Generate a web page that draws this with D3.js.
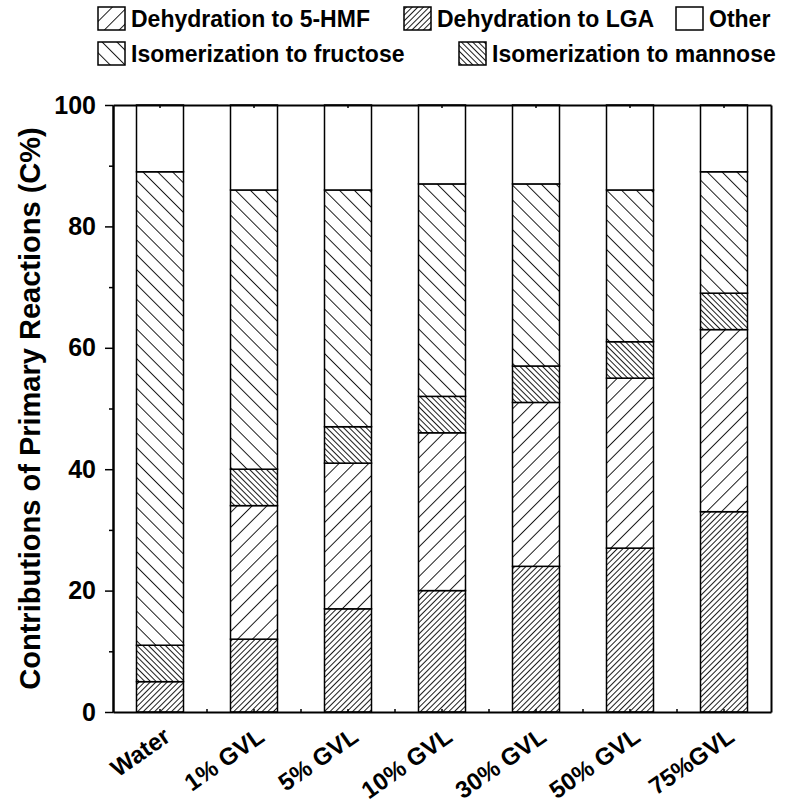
<!DOCTYPE html>
<html>
<head>
<meta charset="utf-8">
<script src="https://cdn.jsdelivr.net/npm/d3@7/dist/d3.min.js"></script>
<style>
  html, body { margin: 0; padding: 0; background: #fff; }
  svg { display: block; }
  text { font-family: Arial, "Liberation Sans", sans-serif; font-weight: bold; fill: #000; }
</style>
</head>
<body>
<svg id="chart" width="788" height="807"></svg>
<script>
// Categories (solvent systems)
const categories = ["Water", "1% GVL", "5% GVL", "10% GVL", "30% GVL", "50% GVL", "75%GVL"];

// Contributions of primary reactions (C%), stacked bottom to top
const lga      = [5, 12, 17, 20, 24, 27, 33];
const hmf      = [0, 22, 24, 26, 27, 28, 30];
const mannose  = [6, 6, 6, 6, 6, 6, 6];
const fructose = [78, 46, 39, 35, 30, 25, 20];
const other    = [11, 14, 14, 13, 13, 14, 11];

const yTicks = [0, 20, 40, 60, 80, 100];
const yMinorTicks = [10, 30, 50, 70, 90];

const seriesNames = ["lga", "hmf", "mannose", "fructose", "other"];
const seriesValues = { lga, hmf, mannose, fructose, other };

const rows = categories.map((c, i) => {
  const r = { category: c };
  seriesNames.forEach(k => { r[k] = seriesValues[k][i]; });
  return r;
});

const W = 788, H = 807;
const margin = { top: 105, right: 17, bottom: 95, left: 113 };

const svg = d3.select("#chart");
const defs = svg.append("defs");

// Hatch fills: angle and spacing per series
const hatch = {
  hmf:      { angle: 45,  gap: 10.5 },
  lga:      { angle: 45,  gap: 4 },
  fructose: { angle: -45, gap: 10.5 },
  mannose:  { angle: -45, gap: 4 }
};
Object.entries(hatch).forEach(([k, h]) => {
  const p = defs.append("pattern")
    .attr("id", "hatch-" + k)
    .attr("patternUnits", "userSpaceOnUse")
    .attr("width", h.gap).attr("height", h.gap)
    .attr("patternTransform", `rotate(${h.angle})`);
  p.append("rect").attr("width", h.gap).attr("height", h.gap).attr("fill", "#fff");
  p.append("line")
    .attr("x1", 0.5).attr("y1", 0).attr("x2", 0.5).attr("y2", h.gap)
    .attr("stroke", "#111").attr("stroke-width", 0.95);
});
const fillFor = k => k === "other" ? "#fff" : `url(#hatch-${k})`;

const x = d3.scaleBand()
  .domain(categories)
  .range([margin.left, W - margin.right])
  .paddingInner(0.5)
  .paddingOuter(0.25);

const y = d3.scaleLinear()
  .domain([0, 100])
  .range([H - margin.bottom, margin.top]);

const stack = d3.stack().keys(seriesNames);
const stacked = stack(rows);

// Bars
const g = svg.append("g");
stacked.forEach(layer => {
  g.selectAll(null)
    .data(layer)
    .join("rect")
    .attr("x", d => x(d.data.category))
    .attr("width", x.bandwidth())
    .attr("y", d => y(d[1]))
    .attr("height", d => y(d[0]) - y(d[1]))
    .attr("fill", fillFor(layer.key))
    .attr("stroke", "#000")
    .attr("stroke-width", 1.5);
});

// Frame and axes
const axisStyle = sel => {
  sel.selectAll(".domain").attr("stroke", "#000").attr("stroke-width", 2);
  sel.selectAll(".tick line").attr("stroke", "#000").attr("stroke-width", 1.5);
};

// Left axis, major ticks with labels
const yAxis = svg.append("g")
  .attr("transform", `translate(${margin.left},0)`)
  .call(d3.axisLeft(y).tickValues(yTicks).tickSize(8).tickPadding(9).tickSizeOuter(0))
  .call(axisStyle);
yAxis.selectAll(".tick text")
  .style("font-size", "25px")
  .style("font-family", "Arial, 'Liberation Sans', sans-serif")
  .style("font-weight", "bold")
  .attr("fill", "#000");

// Left axis, minor ticks
svg.append("g")
  .attr("transform", `translate(${margin.left},0)`)
  .call(d3.axisLeft(y).tickValues(yMinorTicks).tickSize(4).tickFormat("").tickSizeOuter(0))
  .call(axisStyle);

// Right frame line
svg.append("g")
  .attr("transform", `translate(${W - margin.right},0)`)
  .call(d3.axisRight(y).tickValues([]).tickSizeOuter(0))
  .call(axisStyle);

// Top frame with small inward ticks at category centres
svg.append("g")
  .attr("transform", `translate(0,${margin.top})`)
  .call(d3.axisTop(x).tickSize(-3).tickFormat("").tickSizeOuter(0))
  .call(axisStyle);

// Bottom axis with small inward ticks
const xAxis = svg.append("g")
  .attr("transform", `translate(0,${H - margin.bottom})`)
  .call(d3.axisBottom(x).tickSize(-3).tickFormat("").tickSizeOuter(0))
  .call(axisStyle);

// Minor ticks between categories on the bottom axis
const mids = categories.slice(0, -1).map(c => x(c) + x.bandwidth() / 2 + x.step() / 2);
xAxis.selectAll(".minor")
  .data(mids)
  .join("line")
  .attr("class", "minor")
  .attr("x1", d => d).attr("x2", d => d)
  .attr("y1", 0).attr("y2", -3)
  .attr("stroke", "#000").attr("stroke-width", 1.5);

// Rotated category labels
svg.append("g").selectAll("text")
  .data(categories)
  .join("text")
  .attr("transform", d => `translate(${x(d) + x.bandwidth() / 2 + 12},${H - margin.bottom + 28}) rotate(-35)`)
  .attr("text-anchor", "end")
  .style("font-size", "24px")
  .text(d => d);

// Y axis title
svg.append("text")
  .attr("transform", `translate(40,${(margin.top + H - margin.bottom) / 2}) rotate(-90)`)
  .attr("text-anchor", "middle")
  .style("font-size", "29px")
  .text("Contributions of Primary Reactions (C%)");

// Legend
const legendItems = [
  { key: "hmf",      label: "Dehydration to 5-HMF",      x: 98,  row: 0 },
  { key: "lga",      label: "Dehydration to LGA",        x: 404, row: 0 },
  { key: "other",    label: "Other",                     x: 676, row: 0 },
  { key: "fructose", label: "Isomerization to fructose", x: 98,  row: 1 },
  { key: "mannose",  label: "Isomerization to mannose",  x: 459, row: 1 }
];
const legend = svg.append("g");
const rowTop = [7, 42];
legendItems.forEach(it => {
  const top = rowTop[it.row];
  legend.append("rect")
    .attr("x", it.x).attr("y", top)
    .attr("width", 27).attr("height", 23)
    .attr("fill", fillFor(it.key))
    .attr("stroke", "#000").attr("stroke-width", 1.5);
  legend.append("text")
    .attr("x", it.x + 33).attr("y", top + 20)
    .style("font-size", "23px")
    .text(it.label);
});
</script>
</body>
</html>
